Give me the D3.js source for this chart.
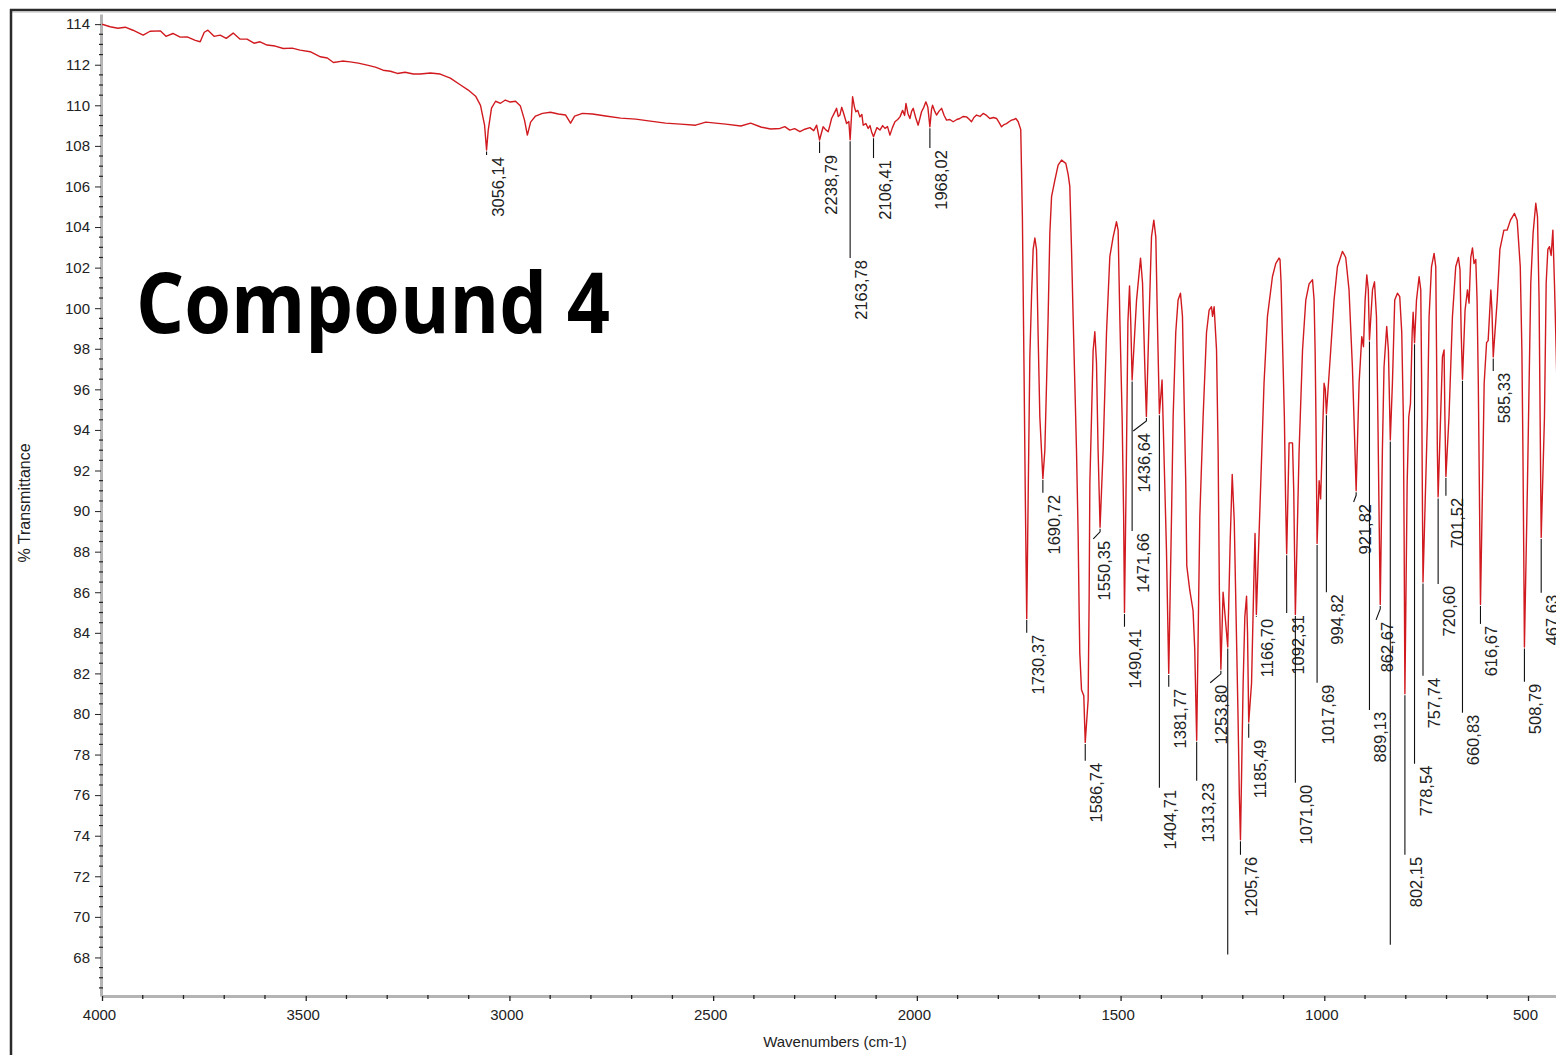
<!DOCTYPE html>
<html>
<head>
<meta charset="utf-8">
<script src="https://cdn.jsdelivr.net/npm/d3@7/dist/d3.min.js"></script>
<style>
  body { margin: 0; background: #fff; }
  svg { display: block; font-family: "Liberation Sans", Arial, sans-serif; }
</style>
</head>
<body>
<svg id="chart" width="1556" height="1055"></svg>
<script>
// spectrum (wavenumber in cm-1, % transmittance), 8 per row
var wavenumbers = [
  4000, 3980, 3961, 3943, 3924, 3899, 3882, 3857,
  3843, 3826, 3808, 3791, 3771, 3759, 3749, 3740,
  3725, 3710, 3695, 3678, 3661, 3644, 3627, 3612,
  3595, 3575, 3555, 3533, 3514, 3489, 3464, 3447,
  3432, 3410, 3391, 3371, 3349, 3329, 3310, 3292,
  3275, 3256, 3236, 3219, 3194, 3170, 3145, 3120,
  3101, 3083, 3071, 3061, 3056.14, 3052, 3044, 3034,
  3022, 3010, 2998, 2985, 2973, 2963, 2956, 2948,
  2936, 2919, 2899, 2880, 2862, 2850, 2840, 2821,
  2796, 2764, 2727, 2690, 2654, 2617, 2580, 2543,
  2518, 2494, 2469, 2432, 2408, 2383, 2359, 2336,
  2324, 2312, 2300, 2287, 2275, 2262.5, 2253, 2246,
  2238.79, 2230, 2224, 2217.6, 2213, 2209.3, 2203, 2197,
  2193, 2188.9, 2184.5, 2180.8, 2176, 2172.5, 2167, 2163.78,
  2157.7, 2153, 2149.7, 2145, 2139.9, 2135, 2131.7, 2125,
  2119.5, 2115, 2111.2, 2106.41, 2098, 2090.6, 2084, 2078.3,
  2072, 2066.1, 2060, 2053.8, 2047, 2041.5, 2035, 2030,
  2026.8, 2022, 2017, 2013, 2008.9, 2003, 1996.8, 1992,
  1988.5, 1983, 1977.9, 1973, 1968.02, 1964, 1961.5, 1956,
  1951.7, 1946, 1939.4, 1933, 1927.1, 1919, 1910.9, 1902,
  1894.5, 1886, 1878.1, 1871, 1865.8, 1860, 1853.5, 1845,
  1837.3, 1829, 1820.9, 1812, 1804.4, 1798, 1792.2, 1786,
  1779.9, 1773, 1767.6, 1762, 1757.1, 1751.3, 1745, 1741,
  1737, 1734, 1730.37, 1722.7, 1718.5, 1714.6, 1710.4, 1706.3,
  1702.3, 1698.2, 1690.72, 1685.9, 1681.7, 1677.8, 1673.6, 1669.4,
  1661.4, 1653.3, 1644.9, 1634.4, 1628.7, 1624.6, 1620.4, 1616.5,
  1612.3, 1608.2, 1604.2, 1601.5, 1600.1, 1595.9, 1590.3, 1586.74,
  1579.6, 1577.2, 1575.4, 1571.3, 1567.4, 1563.2, 1559.1, 1555.2,
  1550.35, 1542.8, 1534.5, 1526.4, 1518.3, 1510, 1506, 1501.9,
  1496.2, 1492.5, 1490.41, 1486, 1482, 1478, 1475, 1471.66,
  1460.8, 1451, 1446.1, 1440.5, 1436.64, 1429.9, 1424.1, 1418.4,
  1413.5, 1409, 1404.71, 1398.2, 1387.4, 1381.77, 1375, 1371,
  1364.6, 1358.9, 1353, 1348.1, 1344.9, 1340, 1337.5, 1330.2,
  1322.1, 1318, 1313.23, 1305.5, 1297.4, 1289.1, 1282.7, 1276.8,
  1274.3, 1270.4, 1264.5, 1260.6, 1257.5, 1253.8, 1248.4, 1237,
  1231, 1226, 1221, 1212, 1208.5, 1205.76, 1199.2, 1195,
  1190.8, 1188.4, 1185.49, 1178.6, 1173, 1170, 1166.7, 1155.9,
  1147.9, 1139.5, 1127.3, 1119.2, 1111.1, 1108.7, 1106, 1102,
  1098, 1095, 1092.31, 1086.4, 1078, 1075, 1071, 1061.8,
  1053.4, 1045.4, 1037.3, 1028.9, 1025, 1022.5, 1020.5, 1017.69,
  1012.7, 1009, 1000.5, 997.5, 994.82, 984.2, 976.1, 967.8,
  955.5, 947.4, 939.3, 931, 926, 921.82, 914.6, 908,
  903.8, 899.8, 895.7, 892, 889.13, 881.7, 876.8, 871.9,
  868.5, 865.5, 862.67, 857.4, 853.4, 846.8, 842.6, 838,
  832.8, 827.1, 820.5, 814.8, 809.9, 806, 804, 802.15,
  796.6, 792.6, 788.5, 784.3, 781.9, 778.54, 773.7, 767.3,
  763.2, 761, 759.5, 757.74, 746.7, 742.8, 736.9, 730.5,
  726.4, 724.5, 722.5, 720.6, 710, 706, 704, 701.52,
  693.9, 685.5, 677.4, 670.8, 666.9, 664, 660.83, 654.5,
  648.6, 644.7, 640.5, 636.3, 632.4, 628.2, 625, 622,
  619.5, 616.67, 611.5, 607.6, 601.7, 597.8, 591.2, 588.5,
  585.33, 575.6, 569, 559.2, 551.1, 543, 533.2, 526.6,
  519, 515, 512.5, 510.5, 508.79, 501.3, 497.3, 493.2,
  487.5, 480.9, 476.7, 472.8, 470.3, 467.63, 459.6, 455.4,
  451.3, 447.3, 443.2, 439, 435.1, 430.9, 428
];
var transmittance = [
  114.0, 113.87, 113.8, 113.85, 113.7, 113.46, 113.65, 113.67,
  113.4, 113.54, 113.36, 113.37, 113.2, 113.13, 113.6, 113.7,
  113.4, 113.46, 113.3, 113.56, 113.26, 113.26, 113.06, 113.13,
  112.97, 112.92, 112.8, 112.82, 112.72, 112.64, 112.39, 112.33,
  112.11, 112.18, 112.14, 112.08, 111.98, 111.88, 111.73, 111.68,
  111.57, 111.63, 111.54, 111.54, 111.59, 111.54, 111.34, 111.0,
  110.75, 110.45, 110.0, 109.02, 107.8, 108.78, 109.86, 110.2,
  110.1, 110.26, 110.16, 110.2, 109.96, 109.27, 108.53, 109.17,
  109.47, 109.6, 109.66, 109.57, 109.52, 109.12, 109.47, 109.6,
  109.57, 109.47, 109.37, 109.32, 109.22, 109.12, 109.07, 109.02,
  109.17, 109.12, 109.07, 108.98, 109.12, 108.93, 108.83, 108.86,
  108.95, 108.78, 108.85, 108.7, 108.82, 108.9, 108.75, 109.02,
  108.29, 108.94, 108.8, 108.7, 109.05, 109.35, 109.6, 109.85,
  109.45, 109.52, 109.9, 109.68, 109.35, 109.1, 109.2, 108.3,
  110.42, 109.9, 109.68, 109.75, 109.43, 109.55, 109.02, 109.1,
  108.86, 109.0, 108.7, 108.45, 108.9, 108.78, 109.0, 108.86,
  108.95, 108.53, 108.9, 109.19, 109.3, 109.43, 109.75, 109.5,
  110.09, 109.6, 109.35, 109.7, 109.85, 109.4, 109.02, 109.4,
  109.68, 109.9, 110.17, 109.9, 108.94, 109.8, 110.0, 109.7,
  109.52, 109.7, 109.85, 109.5, 109.27, 109.3, 109.19, 109.3,
  109.35, 109.45, 109.43, 109.3, 109.19, 109.4, 109.52, 109.45,
  109.6, 109.5, 109.35, 109.4, 109.35, 109.15, 108.94, 109.05,
  109.1, 109.2, 109.27, 109.3, 109.35, 109.19, 108.8, 104.5,
  97.0, 91.0, 84.7, 97.6, 100.6, 102.9, 103.46, 102.9,
  98.6, 94.65, 91.6, 93.0, 96.3, 99.58, 103.7, 105.5,
  106.3, 107.05, 107.3, 107.14, 106.6, 106.0, 102.9, 99.6,
  96.3, 93.0, 88.9, 84.8, 83.0, 81.2, 80.9, 78.6,
  80.7, 85.6, 91.4, 94.65, 97.9, 98.84, 97.3, 93.0,
  89.2, 93.0, 98.8, 102.54, 103.5, 104.26, 103.85, 99.58,
  94.65, 89.73, 85.0, 92.0, 99.3, 101.1, 99.3, 96.46,
  100.4, 102.47, 101.24, 97.1, 94.66, 99.58, 103.52, 104.34,
  103.5, 98.8, 94.8, 96.46, 88.1, 82.0, 89.7, 94.65,
  98.8, 100.4, 100.74, 99.6, 96.3, 91.4, 87.3, 86.1,
  85.1, 83.2, 78.7, 89.73, 94.65, 98.8, 99.9, 100.07,
  99.6, 100.07, 97.94, 93.0, 86.0, 82.2, 86.0, 83.3,
  88.5, 91.8, 89.5, 80.2, 76.0, 73.8, 81.5, 84.8,
  85.8, 84.0, 79.6, 81.5, 86.5, 88.9, 84.9, 91.4,
  96.3, 99.6, 101.55, 102.2, 102.47, 102.4, 101.24, 97.9,
  94.65, 90.6, 87.9, 93.36, 93.36, 91.0, 84.9, 93.0,
  97.94, 100.4, 101.2, 101.4, 100.4, 97.9, 94.6, 88.4,
  91.5, 90.6, 96.3, 96.0, 94.8, 97.94, 100.4, 102.04,
  102.8, 102.5, 100.9, 97.1, 93.85, 91.0, 96.3, 98.6,
  98.1, 100.4, 101.64, 100.9, 98.43, 100.9, 101.3, 99.58,
  94.65, 89.73, 85.4, 93.0, 97.1, 99.1, 97.9, 93.5,
  96.3, 100.4, 100.74, 100.57, 98.8, 94.65, 88.5, 81.0,
  91.4, 94.65, 95.3, 98.8, 99.8, 98.3, 100.4, 101.55,
  100.9, 96.3, 91.4, 86.5, 94.65, 99.58, 102.04, 102.7,
  102.04, 97.9, 93.0, 90.7, 97.6, 97.94, 94.65, 91.7,
  94.65, 99.58, 102.04, 102.5, 101.9, 98.8, 96.5, 99.9,
  100.9, 100.25, 102.5, 102.97, 102.2, 102.4, 100.4, 96.3,
  91.4, 85.4, 91.4, 96.3, 98.3, 98.4, 100.9, 99.9,
  97.6, 100.4, 102.9, 103.85, 103.85, 104.34, 104.67, 104.34,
  102.04, 97.9, 93.0, 88.1, 83.3, 91.4, 96.3, 101.24,
  103.7, 105.17, 104.5, 100.4, 94.65, 88.7, 94.65, 101.24,
  102.9, 103.03, 102.6, 103.85, 101.24, 97.94, 95.5
];

// peak picks: wavenumber, printed text, %T level where the label starts
var peakWn = [3056.14, 2238.79, 2163.78, 2106.41, 1968.02, 1730.37, 1690.72, 1586.74, 1550.35, 1490.41,
  1471.66, 1436.64, 1404.71, 1381.77, 1313.23, 1253.8, 1205.76, 1185.49, 1166.7, 1092.31,
  1071, 1017.69, 994.82, 921.82, 889.13, 862.67, 802.15, 778.54, 757.74, 720.6,
  701.52, 660.83, 616.67, 585.33, 508.79, 467.63];
var peakText = ["3056,14", "2238,79", "2163,78", "2106,41", "1968,02", "1730,37", "1690,72", "1586,74", "1550,35", "1490,41",
  "1471,66", "1436,64", "1404,71", "1381,77", "1313,23", "1253,80", "1205,76", "1185,49", "1166,70", "1092,31",
  "1071,00", "1017,69", "994,82", "921,82", "889,13", "862,67", "802,15", "778,54", "757,74", "720,60",
  "701,52", "660,83", "616,67", "585,33", "508,79", "467,63"];
var peakLabelT = [107.55, 107.65, 102.47, 107.4, 107.89, 84.0, 90.9, 77.69, 88.63, 84.3,
  89.02, 93.95, 76.36, 81.34, 76.71, 81.54, 73.06, 78.83, 84.79, 84.98,
  76.61, 81.54, 86.0, 90.45, 80.2, 84.64, 73.06, 77.55, 81.88, 86.41,
  90.75, 80.06, 84.44, 96.91, 81.59, 85.97];
// where a leader is bent aside, the wavenumber it ends at
var peakLabelWn = [null, null, null, null, null, null, null, null, 1567, null,
  null, 1469, null, null, null, 1280, null, null, null, null,
  null, null, null, 928, null, 873, null, null, null, null,
  null, null, null, null, null, null];

// two picks whose text is missing, only the line is drawn
var markerWn = [1237, 838];
var markerEndT = [68.14, 68.63];

var xTicks = [4000, 3500, 3000, 2500, 2000, 1500, 1000, 500];
var yTicks = [68, 70, 72, 74, 76, 78, 80, 82, 84, 86, 88, 90, 92, 94, 96, 98, 100, 102, 104, 106, 108, 110, 112, 114];

var spectrum = wavenumbers.map(function(w, i) { return [w, transmittance[i]]; });

var svg = d3.select("#chart");
var x = d3.scaleLinear().domain([4000, 431.3]).range([102, 1556]);
var y = d3.scaleLinear().domain([66.1, 114.5]).range([996, 14]);

// outer frame (top and left visible)
svg.append("line").attr("x1", 10).attr("x2", 1556).attr("y1", 10).attr("y2", 10)
  .attr("stroke", "#2a2a2a").attr("stroke-width", 2.5);
svg.append("line").attr("x1", 12).attr("x2", 1556).attr("y1", 12).attr("y2", 12)
  .attr("stroke", "#bbb").attr("stroke-width", 1);
svg.append("line").attr("x1", 11).attr("x2", 11).attr("y1", 9).attr("y2", 1055)
  .attr("stroke", "#2a2a2a").attr("stroke-width", 2.5);

// y axis
var yAxis = svg.append("g").attr("transform", "translate(101,0)")
  .call(d3.axisLeft(y).tickValues(yTicks).tickSize(6).tickPadding(5).tickSizeOuter(0));
yAxis.select(".domain").attr("stroke", "#b4b4b4").attr("stroke-width", 3);
yAxis.selectAll(".tick line").attr("stroke", "#222");
yAxis.selectAll(".tick text").attr("fill", "#222").style("font-size", "15px")
  .style("font-family", "Liberation Sans, Arial, sans-serif");
svg.append("g").selectAll("line")
  .data(d3.range(66.5, 114.5, 0.5).filter(function(v) { return v % 2 !== 0; }))
  .join("line")
  .attr("x1", 99).attr("x2", 103)
  .attr("y1", function(d) { return y(d); }).attr("y2", function(d) { return y(d); })
  .attr("stroke", "#222").attr("stroke-width", 1.2);

// x axis
var xAxis = svg.append("g").attr("transform", "translate(0,996)")
  .call(d3.axisBottom(x).tickValues(xTicks).tickSize(5).tickPadding(8).tickSizeOuter(0)
    .tickFormat(d3.format("d")));
xAxis.select(".domain").attr("stroke", "#b4b4b4").attr("stroke-width", 3);
xAxis.selectAll(".tick line").attr("stroke", "#222").attr("stroke-width", 1.3);
xAxis.selectAll(".tick text").attr("fill", "#222").attr("dx", -3).style("font-size", "15px")
  .style("font-family", "Liberation Sans, Arial, sans-serif");
svg.append("g").selectAll("line")
  .data(d3.range(3900, 450, -100).filter(function(v) { return v % 500 !== 0; }))
  .join("line")
  .attr("x1", function(d) { return x(d); }).attr("x2", function(d) { return x(d); })
  .attr("y1", 995).attr("y2", 999)
  .attr("stroke", "#222").attr("stroke-width", 1.3);

// axis titles
svg.append("text").attr("transform", "translate(30,503) rotate(-90)")
  .attr("text-anchor", "middle").attr("fill", "#222").style("font-size", "16px")
  .text("% Transmittance");
svg.append("text").attr("x", 835).attr("y", 1047)
  .attr("text-anchor", "middle").attr("fill", "#222").style("font-size", "15px")
  .text("Wavenumbers (cm-1)");

// spectrum trace
svg.append("clipPath").attr("id", "plotClip").append("rect")
  .attr("x", 102).attr("y", 14).attr("width", 1454).attr("height", 982);
var line = d3.line().x(function(d) { return x(d[0]); }).y(function(d) { return y(d[1]); });
svg.append("path").datum(spectrum)
  .attr("clip-path", "url(#plotClip)")
  .attr("fill", "none").attr("stroke", "#d11a1f").attr("stroke-width", 1.4)
  .attr("stroke-linejoin", "round")
  .attr("d", line);

// peak leaders and labels
function valueAt(w) {
  return d3.least(spectrum, function(d) { return Math.abs(d[0] - w); })[1];
}
var labels = svg.append("g");
peakWn.forEach(function(w, i) {
  var xp = x(w), yp = y(valueAt(w)) + 1.5;
  var ye = y(peakLabelT[i]);
  var xl = peakLabelWn[i] === null ? xp : x(peakLabelWn[i]);
  var path = d3.path();
  path.moveTo(xp, yp);
  if (peakLabelWn[i] === null) {
    path.lineTo(xp, ye);
  } else {
    path.lineTo(xp, yp + 3);
    path.lineTo(xl, ye);
  }
  labels.append("path").attr("d", path.toString())
    .attr("fill", "none").attr("stroke", "#111").attr("stroke-width", 1.1);
  labels.append("text")
    .attr("transform", "translate(" + (xl + 17) + "," + (ye + 2) + ") rotate(-90)")
    .attr("text-anchor", "end").attr("fill", "#222").style("font-size", "16.5px")
    .text(peakText[i]);
});
markerWn.forEach(function(w, i) {
  labels.append("line")
    .attr("x1", x(w)).attr("x2", x(w))
    .attr("y1", y(valueAt(w)) + 1.5).attr("y2", y(markerEndT[i]))
    .attr("stroke", "#111").attr("stroke-width", 1.1);
});

// big caption
svg.append("text").attr("x", 136).attr("y", 333)
  .attr("textLength", 474).attr("lengthAdjust", "spacingAndGlyphs")
  .style("font-family", "'Open Sans', 'Noto Sans', sans-serif")
  .style("font-weight", "bold").style("font-size", "84px").attr("fill", "#000")
  .text("Compound 4");
</script>
</body>
</html>
